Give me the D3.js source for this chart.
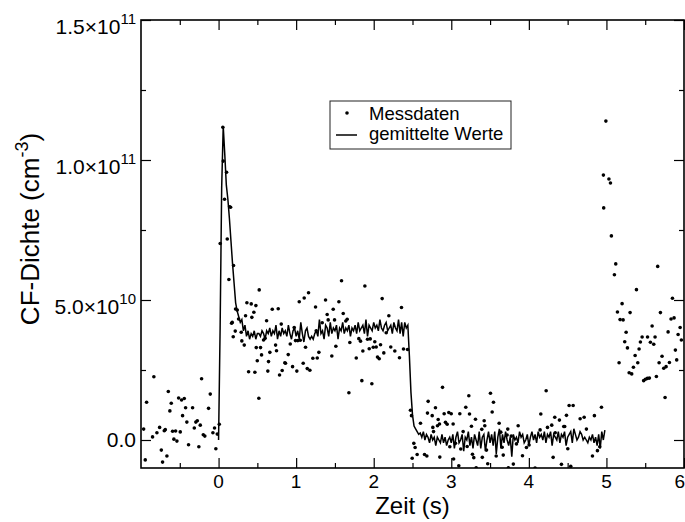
<!DOCTYPE html>
<html>
<head>
<meta charset="utf-8">
<script src="https://cdn.jsdelivr.net/npm/d3@7"></script>
<style>
body { margin: 0; background: #fff; }
text { font-family: "Liberation Sans", Arial, sans-serif; fill: #000; }
</style>
</head>
<body>
<div id="chart"></div>
<script>
// CF density in units of 1e10 cm^-3, time in s
var messdaten = [
    [-0.966,0.39],[-0.945,-0.71],[-0.928,1.35],[-0.851,0.11],[-0.834,2.26],[-0.795,0.26],[-0.760,0.45],
    [-0.738,-0.36],[-0.722,-0.79],[-0.700,0.33],[-0.687,0.37],[-0.666,-0.57],[-0.648,1.73],[-0.628,1.04],
    [-0.610,1.31],[-0.593,0.31],[-0.576,0.03],[-0.554,0.32],[-0.537,-0.04],[-0.515,1.50],[-0.494,0.29],
    [-0.477,1.43],[-0.464,0.87],[-0.442,1.48],[-0.425,1.15],[-0.409,0.64],[-0.387,-0.17],[-0.335,1.15],
    [-0.313,0.43],[-0.293,0.64],[-0.274,0.69],[-0.254,-0.24],[-0.236,0.53],[-0.219,2.19],[-0.197,0.19],
    [-0.177,0.14],[-0.129,1.13],[-0.107,1.64],[-0.073,0.26],[-0.052,0.43],[-0.035,-0.31],[-0.017,0.21],
    [0.009,0.56],
    [0.021,7.02],[0.055,11.17],[0.060,9.96],[0.077,8.60],[0.103,9.56],[0.112,7.18],[0.133,5.73],
    [0.142,8.33],[0.155,8.31],[0.168,4.17],[0.176,4.20],[0.189,3.69],[0.193,6.23],[0.215,3.89],
    [0.219,4.68],[0.241,4.64],[0.258,4.32],[0.292,3.85],[0.300,3.54],[0.331,3.39],[0.348,4.44],
    [0.365,4.90],[0.387,2.44],[0.421,4.86],[0.429,4.38],[0.455,4.56],[0.468,2.42],[0.481,4.80],
    [0.486,3.30],[0.499,2.83],[0.519,1.49],[0.524,5.36],[0.541,3.30],[0.554,3.04],[0.580,3.57],
    [0.600,3.63],[0.619,4.26],[0.635,2.46],[0.644,2.80],[0.661,3.13],
    [0.692,4.67],[0.735,3.39],[0.747,3.19],[0.769,4.69],[0.786,2.32],[0.808,4.14],[0.820,2.48],
    [0.854,2.76],[0.863,2.74],[0.898,3.05],[0.924,3.43],[0.954,2.62],[0.975,4.02],[0.992,3.55],
    [1.009,2.46],[1.022,3.55],[1.040,4.94],[1.053,3.56],[1.091,2.74],[1.104,5.07],[1.121,3.31],
    [1.143,2.55],[1.160,5.26],[1.177,2.49],[1.215,2.92],[1.250,4.75],[1.259,3.90],[1.272,2.93],
    [1.293,3.13],[1.336,4.19],[1.379,5.00],[1.400,4.48],[1.413,4.29],[1.460,3.00],[1.478,4.67],
    [1.495,4.29],[1.512,3.35],[1.551,4.94],[1.585,5.69],[1.607,4.52],[1.640,4.25],[1.658,4.31],
    [1.680,1.69],[1.692,3.48],[1.775,2.93],[1.808,3.62],[1.830,3.53],[1.847,2.12],[1.860,3.18],
    [1.886,5.50],[1.920,3.60],[1.942,3.26],[1.955,3.61],[1.976,2.01],[1.994,3.31],[2.014,3.51],
    [2.032,3.32],[2.049,2.96],[2.071,2.90],[2.088,3.40],[2.109,5.05],[2.130,3.11],[2.161,3.83],
    [2.195,4.44],[2.220,3.32],[2.272,3.18],[2.332,2.94],[2.358,4.73],[2.384,3.25],[2.436,3.23],
    [2.474,1.06],[2.487,0.87],[2.496,-0.65],[2.517,-0.12],[2.534,-0.27],[2.560,-0.52],[2.603,0.60],
    [2.655,-0.52],[2.685,-0.57],[2.693,0.96],[2.702,1.38],[2.754,0.87],[2.762,0.45],[2.771,0.30],
    [2.796,1.15],[2.822,0.51],[2.831,0.73],[2.848,0.57],[2.852,-0.61],[2.887,1.88],[2.908,0.94],
    [2.925,0.63],[2.947,0.56],[2.968,0.98],[2.981,-0.24],[2.999,0.94],[3.024,0.57],[3.030,-0.68],
    [3.054,-0.12],[3.097,-0.92],[3.110,0.94],[3.122,-0.32],[3.153,0.30],[3.187,1.17],[3.205,-0.23],
    [3.226,1.58],[3.235,0.93],[3.260,0.49],[3.273,-0.51],[3.290,-0.63],[3.312,0.74],[3.321,-0.99],
    [3.393,0.38],[3.400,-0.62],[3.424,0.69],[3.432,0.51],[3.454,-0.36],[3.470,-0.85],[3.505,1.67],
    [3.527,1.00],[3.544,1.35],[3.579,-0.57],[3.617,0.60],[3.638,0.28],[3.656,-0.26],[3.670,-0.54],
    [3.720,0.18],[3.728,0.39],[3.736,-0.99],[3.773,0.14],[3.800,-0.86],[3.840,-0.14],[3.862,0.51],
    [3.918,-0.56],[3.969,-0.27],[4.003,-0.18],[4.080,-1.00],[4.145,0.36],[4.154,0.93],[4.223,1.76],
    [4.240,0.45],[4.295,0.53],[4.313,-0.62],[4.334,0.81],[4.340,0.26],[4.394,0.71],[4.420,-0.87],
    [4.450,0.48],[4.462,0.48],[4.485,0.88],[4.502,-0.31],[4.519,1.23],[4.540,-0.94],[4.571,1.23],
    [4.661,0.76],[4.713,0.81],[4.742,0.39],[4.820,-0.57],[4.845,0.87],[4.884,-0.38],[4.914,-0.24],
    [4.936,1.17],
    [4.961,9.46],[4.965,8.29],[4.993,11.39],[5.032,9.32],[5.052,9.18],[5.064,7.29],[5.103,5.90],
    [5.120,6.29],[5.142,4.57],[5.163,2.76],[5.176,4.30],[5.202,4.87],[5.215,4.29],[5.236,3.51],
    [5.254,3.85],[5.271,3.29],[5.293,2.40],[5.305,4.55],[5.326,2.36],[5.348,2.60],[5.370,3.02],
    [5.387,5.37],[5.404,2.76],[5.421,3.25],[5.438,3.50],[5.460,3.68],[5.480,2.12],[5.503,2.17],
    [5.528,2.20],[5.530,3.68],[5.554,2.21],[5.567,3.49],[5.589,4.07],[5.610,3.42],[5.627,3.68],
    [5.644,2.27],[5.661,6.20],[5.679,2.76],[5.696,4.55],[5.717,2.99],[5.739,2.56],[5.756,1.52],
    [5.769,2.62],[5.795,3.86],[5.812,2.77],[5.833,4.32],[5.851,5.06],[5.872,4.36],[5.889,3.21],
    [5.906,2.86],[5.924,3.77],[5.950,4.02],[5.966,3.57]
];

// averaged values, one every 0.02 s starting at t = 0
var lineStart = 0;
var lineStep = 0.02;
var gemittelt = [
    0.0, 4.0, 9.0, 11.2, 10.2, 9.1, 8.6, 7.9, 7.1, 6.3, 5.6, 4.9, 4.6, 4.4, 4.2,
    4.3, 3.9, 4.1, 3.7, 3.9, 3.6, 3.8, 3.7, 3.9, 3.6, 3.8, 3.8, 3.7, 3.9, 3.8, 3.6, 3.9, 3.8,
    4.0, 3.7, 3.9, 3.8, 4.1, 3.6, 3.9, 3.7, 4.0, 3.8, 3.9, 3.7, 4.1, 3.8, 3.6, 3.9, 4.0, 3.7,
    3.9, 3.6, 4.2, 3.8, 3.5, 3.9, 4.0, 3.7, 3.6, 3.7, 3.6, 3.8, 3.9, 3.7, 4.3, 3.8, 3.9, 3.6,
    4.1, 4.0, 3.7, 4.2, 3.8, 4.0, 3.9, 4.1, 3.6, 4.0, 3.9, 4.2, 3.8, 4.0, 3.9, 4.1, 3.7,
    4.0, 3.9, 4.1, 3.8, 4.2, 3.9, 4.0, 4.1, 3.8, 4.3, 3.7, 4.1, 4.0, 3.9, 4.2, 4.0, 4.1, 3.9,
    4.3, 4.0, 3.9, 4.1, 4.2, 3.9, 4.0, 4.1, 3.8, 4.2, 4.0, 3.9, 4.3, 3.8, 4.2, 3.7, 4.2, 4.0, 4.1,
    3.0, 1.7, 0.9, 0.5,
    0.4, 0.3, 0.2, 0.25, 0.1, 0.3, 0.0, 0.2, 0.1, -0.1, 0.2, 0.0, 0.1, -0.2, 0.1, 0.0, -0.1, 0.2,
    -0.1, 0.1, -0.2, 0.0, 0.1, -0.1,
    0.2, -0.3, 0.1, 0.3, -0.1, 0.0, 0.2, -0.4, 0.1, 0.0, 0.3, -0.2, 0.1, -0.3, 0.2, 0.0, -0.2, 0.3,
    -0.3, 0.1, 0.2, -0.4, 0.0, 0.3, -0.1,
    0.2, -0.2, 0.3, -0.5, 0.1, 0.4, -0.3, 0.2, -0.1, 0.3, 0.0, -0.2, 0.1, -0.6, 0.2, 0.0, 0.1, -0.1,
    0.3, 0.1, 0.2, -0.1, 0.0, 0.2, -0.2,
    0.1, 0.3, 0.0, 0.2, -0.1, 0.3, 0.1, 0.2, 0.0, 0.3, -0.1, 0.2, 0.1, 0.3, -0.2, 0.2, 0.1, 0.0,
    0.3, -0.1, 0.2, 0.1, 0.3, -0.2, 0.1,
    0.2, 0.3, -0.1, 0.4, 0.2, 0.0, 0.1, 0.3, 0.2, 0.0, 0.1, 0.0, -0.1, 0.1, 0.0, 0.2, -0.1, 0.1,
    -0.2, 0.2, -0.3, 0.3, 0.0, 0.35
];

var xTicks = [0, 1, 2, 3, 4, 5, 6];
var xMinorTicks = [-0.5, 0.5, 1.5, 2.5, 3.5, 4.5, 5.5];
var yTicks = [0, 5, 10, 15];
var yMinorTicks = [2.5, 7.5, 12.5];
var yTickText = ["0.0", "5.0\u00d710", "1.0\u00d710", "1.5\u00d710"];
var yTickExp = ["", "10", "11", "11"];
var legendLabels = ["Messdaten", "gemittelte Werte"];

var svgWidth = 685;
var svgHeight = 522;
var margin = {top: 20, right: 1, bottom: 54, left: 141};
var width = svgWidth - margin.left - margin.right;
var height = svgHeight - margin.top - margin.bottom;

var svg = d3.select("#chart")
    .append("svg")
    .attr("width", svgWidth)
    .attr("height", svgHeight);

var chartGroup = svg.append("g")
    .attr("transform", `translate(${margin.left}, ${margin.top})`);

var x = d3.scaleLinear().domain([-1, 6]).range([0, width]);
var y = d3.scaleLinear().domain([-1, 15]).range([height, 0]);

chartGroup.append("clipPath")
    .attr("id", "plotClip")
    .append("rect")
    .attr("width", width)
    .attr("height", height);

// ticks on all four sides, pointing inward
function tickAxis(axis, values, size, transform) {
    chartGroup.append("g")
        .attr("transform", transform)
        .call(axis.tickValues(values).tickSize(-size).tickFormat(""))
        .call(g => g.select(".domain").remove())
        .call(g => g.selectAll(".tick line").attr("stroke", "#000").attr("stroke-width", 1.2));
}
tickAxis(d3.axisBottom(x), xTicks, 10, `translate(0, ${height})`);
tickAxis(d3.axisBottom(x), xMinorTicks, 5, `translate(0, ${height})`);
tickAxis(d3.axisTop(x), xTicks, 10, "translate(0, 0)");
tickAxis(d3.axisTop(x), xMinorTicks, 5, "translate(0, 0)");
tickAxis(d3.axisLeft(y), yTicks, 10, "translate(0, 0)");
tickAxis(d3.axisLeft(y), yMinorTicks, 5, "translate(0, 0)");
tickAxis(d3.axisRight(y), yTicks, 10, `translate(${width}, 0)`);
tickAxis(d3.axisRight(y), yMinorTicks, 5, `translate(${width}, 0)`);

chartGroup.append("rect")
    .attr("width", width)
    .attr("height", height)
    .attr("fill", "none")
    .attr("stroke", "#000")
    .attr("stroke-width", 1.6);

// tick labels; the last one is pulled inside the page edge
chartGroup.selectAll(".xlabel")
    .data(xTicks)
    .enter()
    .append("text")
    .attr("class", "xlabel")
    .attr("x", (d, i) => i === xTicks.length - 1 ? x(d) + 1 : x(d))
    .attr("y", height + 20)
    .attr("text-anchor", (d, i) => i === xTicks.length - 1 ? "end" : "middle")
    .style("font-size", "19px")
    .text(d => d);

var yLabels = chartGroup.selectAll(".ylabel")
    .data(yTicks)
    .enter()
    .append("text")
    .attr("class", "ylabel")
    .attr("x", -5)
    .attr("y", (d, i) => y(d) + (yTickExp[i] ? 14 : 7))
    .attr("text-anchor", "end")
    .style("font-size", "21px");
yLabels.append("tspan").text((d, i) => yTickText[i]);
yLabels.append("tspan")
    .attr("dy", -10)
    .style("font-size", "15px")
    .text((d, i) => yTickExp[i]);

// data
var plot = chartGroup.append("g").attr("clip-path", "url(#plotClip)");

var line = d3.line()
    .x((d, i) => x(lineStart + i * lineStep))
    .y(d => y(d));

plot.append("path")
    .datum(gemittelt)
    .attr("d", line)
    .attr("fill", "none")
    .attr("stroke", "#000")
    .attr("stroke-width", 1.5);

plot.selectAll("circle")
    .data(messdaten)
    .enter()
    .append("circle")
    .attr("cx", d => x(d[0]))
    .attr("cy", d => y(d[1]))
    .attr("r", 1.8)
    .attr("fill", "#000");

// axis titles
chartGroup.append("text")
    .attr("x", width / 2)
    .attr("y", height + 46)
    .attr("text-anchor", "middle")
    .style("font-size", "24px")
    .text("Zeit (s)");

var yTitle = chartGroup.append("text")
    .attr("transform", `translate(${-102}, ${height / 2 - 15}) rotate(-90)`)
    .attr("text-anchor", "middle")
    .style("font-size", "26px");
yTitle.append("tspan").text("CF-Dichte (cm");
yTitle.append("tspan").attr("dy", -11).style("font-size", "18px").text("-3");
yTitle.append("tspan").attr("dy", 11).text(")");

// legend
var legend = chartGroup.append("g")
    .attr("transform", "translate(189, 81)");
legend.append("rect")
    .attr("width", 181)
    .attr("height", 48)
    .attr("fill", "#fff")
    .attr("stroke", "#222")
    .attr("stroke-width", 1);
legend.append("circle")
    .attr("cx", 17)
    .attr("cy", 12)
    .attr("r", 1.8)
    .attr("fill", "#000");
legend.append("line")
    .attr("x1", 6)
    .attr("x2", 27)
    .attr("y1", 34)
    .attr("y2", 34)
    .attr("stroke", "#000")
    .attr("stroke-width", 1.5);
legend.selectAll(".legtext")
    .data(legendLabels)
    .enter()
    .append("text")
    .attr("class", "legtext")
    .attr("x", 39)
    .attr("y", (d, i) => 19 + i * 20)
    .style("font-size", "18.5px")
    .text(d => d);
</script>
</body>
</html>
